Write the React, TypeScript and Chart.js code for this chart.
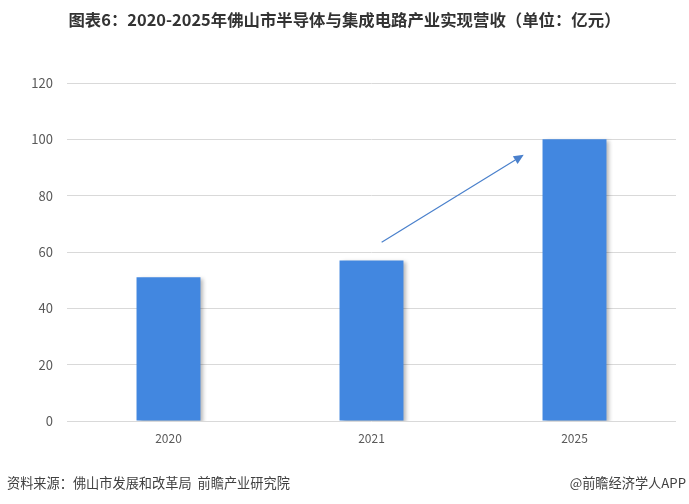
import React, { useEffect, useRef } from "react";
import { Chart, registerables } from "chart.js";

Chart.register(...registerables);

const TITLE = "图表6：2020-2025年佛山市半导体与集成电路产业实现营收（单位：亿元）";
const SOURCE = "资料来源：佛山市发展和改革局  前瞻产业研究院";
const BRAND = "@前瞻经济学人APP";
const categories = ["2020", "2021", "2025"];
const revenue = [51, 57, 100];
const yTicks = [0, 20, 40, 60, 80, 100, 120];
// arrow annotation in data coordinates: [categoryIndex, value]
const arrowFrom = [1.05, 63.5];
const arrowTo = [1.75, 94.5];

const FONT = "'Noto Sans CJK SC', 'Noto Sans', sans-serif";

export default function App() {
  const ref = useRef<HTMLCanvasElement | null>(null);
  useEffect(() => {
    if (!ref.current) return;
    const decor = {
      id: "decor",
      beforeDatasetDraw(chart: any) {
        const ctx = chart.ctx;
        ctx.save();
        ctx.shadowColor = "rgba(0,0,0,0.28)";
        ctx.shadowBlur = 4;
        ctx.shadowOffsetX = 3;
        ctx.shadowOffsetY = 2;
      },
      afterDatasetDraw(chart: any) {
        chart.ctx.restore();
      },
      afterDraw(chart: any) {
        const ctx = chart.ctx;
        const xs = chart.scales.x;
        const ys = chart.scales.y;
        ctx.save();
        // title
        ctx.fillStyle = "#333333";
        ctx.font = `bold 16.4px ${FONT}`;
        ctx.textAlign = "center";
        ctx.textBaseline = "middle";
        ctx.fillText(TITLE, chart.width / 2, 20);
        // footer
        ctx.fillStyle = "#404040";
        ctx.font = `13.2px ${FONT}`;
        ctx.textAlign = "left";
        ctx.fillText(SOURCE, 7, 483);
        ctx.textAlign = "right";
        ctx.fillText(BRAND, 686, 483);
        // arrow
        const x1 = xs.getPixelForValue(arrowFrom[0]);
        const y1 = ys.getPixelForValue(arrowFrom[1]);
        const x2 = xs.getPixelForValue(arrowTo[0]);
        const y2 = ys.getPixelForValue(arrowTo[1]);
        const ang = Math.atan2(y2 - y1, x2 - x1);
        const headLen = 10;
        const hx = x2 - headLen * Math.cos(ang);
        const hy = y2 - headLen * Math.sin(ang);
        ctx.strokeStyle = "#4a80cc";
        ctx.fillStyle = "#4a80cc";
        ctx.lineWidth = 1.2;
        ctx.beginPath();
        ctx.moveTo(x1, y1);
        ctx.lineTo(hx, hy);
        ctx.stroke();
        ctx.beginPath();
        ctx.moveTo(x2, y2);
        ctx.lineTo(hx + 4.5 * Math.sin(ang), hy - 4.5 * Math.cos(ang));
        ctx.lineTo(hx - 4.5 * Math.sin(ang), hy + 4.5 * Math.cos(ang));
        ctx.closePath();
        ctx.fill();
        ctx.restore();
      },
    };
    const chart = new Chart(ref.current, {
      type: "bar",
      data: {
        labels: categories,
        datasets: [
          {
            data: revenue,
            backgroundColor: "#4287e0",
            barPercentage: 0.315,
            categoryPercentage: 1,
          },
        ],
      },
      options: {
        animation: false,
        responsive: false,
        maintainAspectRatio: false,
        layout: { padding: { left: 0, right: 13, top: 83, bottom: 0 } },
        plugins: { legend: { display: false }, tooltip: { enabled: false } },
        scales: {
          x: {
            grid: { display: false, drawTicks: false },
            border: { display: false },
            ticks: { color: "#595959", font: { size: 12, family: FONT }, padding: 10 },
            afterFit(scale: any) {
              scale.height = 83;
            },
          },
          y: {
            min: 0,
            max: 120,
            afterBuildTicks(scale: any) {
              scale.ticks = yTicks.map((v) => ({ value: v }));
            },
            grid: { color: "#d9d9d9", drawTicks: false, lineWidth: 1 },
            border: { display: false },
            ticks: { color: "#595959", font: { size: 13, family: FONT }, padding: 14 },
            afterFit(scale: any) {
              scale.width = 67;
            },
          },
        },
      },
      plugins: [decor],
    });
    return () => chart.destroy();
  }, []);
  return (
    <div style={{ position: "absolute", left: 0, top: 0, width: 689, height: 504, background: "#fff" }}>
      <canvas ref={ref} width={689} height={504} style={{ width: 689, height: 504, display: "block" }} />
    </div>
  );
}
